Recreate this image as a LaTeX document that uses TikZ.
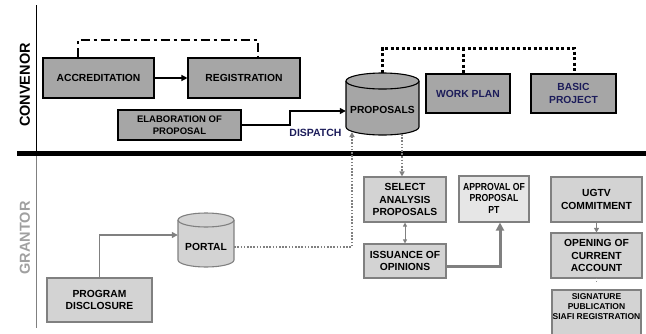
\documentclass[tikz,border=0pt]{standalone}
\usepackage{fontspec}
\setmainfont{Liberation Sans}
\usetikzlibrary{arrows.meta}
\definecolor{boxdark}{HTML}{A6A6A6}
\definecolor{boxlight}{HTML}{D3D3D3}
\definecolor{boxpale}{HTML}{E6E6E6}
\definecolor{edgegray}{HTML}{808080}
\definecolor{navy}{HTML}{1C1C5A}
\definecolor{lanegray}{HTML}{A0A0A0}
\tikzset{
  txt/.style={font=\bfseries\fontsize{10.3}{12.5}\selectfont, align=center, inner sep=0pt},
  darkbox/.style={draw=black, fill=boxdark, line width=1.1pt, txt},
  lightbox/.style={draw=edgegray, fill=boxlight, line width=1.1pt, txt},
  palebox/.style={draw=edgegray, fill=boxpale, line width=1.1pt, txt},
  lanelabel/.style={font=\bfseries\fontsize{14.5}{16}\selectfont, rotate=90, inner sep=0pt},
  blackarrow/.style={line width=1.3pt, -{Triangle[length=6pt,width=6pt]}},
  grayarrow/.style={draw=edgegray, line width=1.4pt, -{Triangle[length=6pt,width=6pt]}},
  dashdotline/.style={line width=1.8pt, dash pattern=on 9pt off 4pt on 3pt off 4pt},
  blackdots/.style={line width=3pt, dash pattern=on 3pt off 2.5pt},
  graydots/.style={draw=edgegray, line width=1.6pt, dash pattern=on 1.6pt off 1.6pt,
    -{Triangle[length=5pt,width=5pt]}},
}
\begin{document}
\begin{tikzpicture}[x=1pt, y=1pt]
\useasboundingbox (0,0) rectangle (646,-333);

% swimlane rules and labels
\draw[line width=1pt] (36,-5) -- (36,-152);
\draw[edgegray, line width=1pt] (36,-156) -- (36,-328);
\draw[line width=5pt] (17,-153.5) -- (646,-153.5);
\node[lanelabel] (convenor) at (25,-85) {CONVENOR};
\node[lanelabel, text=lanegray] (grantor) at (25,-238) {GRANTOR};

% ---- convenor lane ----
\node[darkbox, minimum width=111, minimum height=40] (acc) at (98.5,-78) {ACCREDITATION};
\node[darkbox, minimum width=112, minimum height=40] (reg) at (244,-78) {REGISTRATION};
\node[darkbox, minimum width=123, minimum height=30, font=\bfseries\fontsize{9.5}{11.5}\selectfont] (elab) at (179.5,-125) {ELABORATION OF\\PROPOSAL};
\node[darkbox, minimum width=84, minimum height=39, text=navy] (wp) at (468,-93.5) {WORK PLAN};
\node[darkbox, minimum width=85, minimum height=39, text=navy] (bp) at (573.5,-93.5) {BASIC\\PROJECT};

% proposals store (cylinder)
\fill[boxdark] (346,-81) rectangle (419,-127);
\fill[boxdark] (382.5,-127) ellipse (36.5 and 8);
\draw[line width=1.1pt] (346,-81) -- (346,-127)
  arc[start angle=180, end angle=360, x radius=36.5, y radius=8] -- (419,-81);
\filldraw[fill=boxdark, line width=1.1pt] (382.5,-81) ellipse (36.5 and 8);
\node[inner sep=0pt, minimum width=73, minimum height=62] (prop) at (382.5,-104) {};
\node[txt] (proptext) at (382.5,-110) {PROPOSALS};

% dash-dot link over accreditation and registration
\coordinate (da) at (78,-40);
\coordinate (db) at (258,-40);
\draw[dashdotline] (acc.north -| da) -- (da) -- (db) -- (reg.north -| db);

\draw[blackarrow] (acc) -- (reg);

% dispatch
\coordinate (step) at (290,-111);
\draw[blackarrow] (elab.east) -| (step) -- (prop.west |- step);
\node[font=\bfseries\fontsize{10.5}{12}\selectfont, text=navy, inner sep=0pt] (dispatch) at (315.5,-133) {DISPATCH};

% dotted links between proposals, work plan and basic project
\coordinate (t1) at (382.5,-48);
\coordinate (t2) at (463,-48);
\coordinate (t3) at (574,-48);
\draw[blackdots] (prop.north) -- (t1) -- (t3) -- (bp.north -| t3);
\draw[blackdots] (t2) -- (wp.north -| t2);

% ---- grantor lane ----
\node[lightbox, minimum width=105, minimum height=44] (disc) at (99.5,-300) {PROGRAM\\DISCLOSURE};

% portal store (cylinder)
\fill[boxlight] (178,-220) rectangle (234,-260);
\fill[boxlight] (206,-260) ellipse (28 and 7);
\draw[edgegray, line width=1.1pt] (178,-220) -- (178,-260)
  arc[start angle=180, end angle=360, x radius=28, y radius=7] -- (234,-220);
\filldraw[fill=boxlight, draw=edgegray, line width=1.1pt] (206,-220) ellipse (28 and 7);
\node[inner sep=0pt, minimum width=56, minimum height=54] (portal) at (206,-240) {};
\node[txt] (portaltext) at (206,-247) {PORTAL};

\coordinate (c1) at (100,-235);
\draw[grayarrow] (disc.north) |- (portal.west |- c1);

\coordinate (pin) at (352,-132);
\draw[graydots] (portal.east |- portaltext) -| (pin);

\node[lightbox, minimum width=82, minimum height=45] (sel) at (405,-199.5) {SELECT\\ANALYSIS\\PROPOSALS};
\node[lightbox, minimum width=82, minimum height=34] (iss) at (405,-261) {ISSUANCE OF\\OPINIONS};
\node[palebox, minimum width=70, minimum height=46] (appr) at (494,-199) {};
\node[txt, font=\bfseries\fontsize{10.2}{11.5}\selectfont, xscale=0.85] (apprtext) at (494,-198) {APPROVAL OF\\PROPOSAL\\PT};

\coordinate (pout) at (402,-134);
\draw[graydots] (pout) -- (sel.north -| pout);

\draw[draw=edgegray, line width=1pt, {Triangle[length=4pt,width=4pt]}-{Triangle[length=4pt,width=4pt]}] (sel.south) -- (iss.north);

\coordinate (q) at (500,-266);
\draw[draw=edgegray, line width=3pt, -{Triangle[length=8pt,width=8pt]}] (iss.east |- q) -| (appr.south -| q);

\node[lightbox, minimum width=91, minimum height=45] (ugtv) at (596.5,-199.5) {UGTV\\COMMITMENT};
\node[lightbox, minimum width=91, minimum height=45] (open) at (596.5,-255.5) {OPENING OF\\CURRENT\\ACCOUNT};
\node[lightbox, minimum width=89, minimum height=50] (sig) at (596.5,-315) {};
\node[txt, font=\bfseries\fontsize{8.5}{10}\selectfont] (sigtext) at (596.5,-307) {SIGNATURE\\PUBLICATION\\SIAFI REGISTRATION};

\draw[draw=edgegray, line width=1pt, -{Triangle[length=4.5pt,width=5pt]}] (ugtv.south) -- (open.north);
\draw[draw=white, line width=1pt, -{Triangle[length=4.5pt,width=5pt,fill=edgegray]}] (sig.north) -- (open.south);
\end{tikzpicture}
\end{document}
